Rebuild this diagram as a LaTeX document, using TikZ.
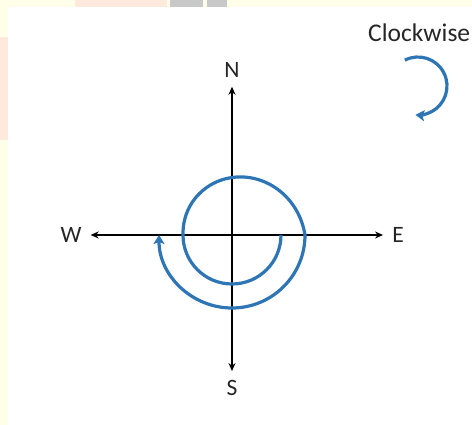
\documentclass[tikz,border=0pt]{standalone}
\usepackage{fontspec}
\setmainfont{Carlito}
\usepackage{xcolor}
\usetikzlibrary{arrows.meta,positioning}
\definecolor{cream}{RGB}{255,254,232}
\definecolor{peach}{RGB}{255,233,220}
\definecolor{wmgray}{RGB}{200,200,200}
\definecolor{spirblue}{RGB}{46,117,182}
\tikzset{
  Dlabel/.style={font=\fontsize{23.5}{26}\selectfont, inner sep=9pt, text=black!85},
  Cwtext/.style={font=\fontsize{25.5}{28}\selectfont, inner sep=0pt, text=black!85, anchor=west},
  Axarr/.style={{Stealth[length=8pt,width=7pt]}-{Stealth[length=8pt,width=7pt]}, line width=1.8pt},
  Spir/.style={-{Stealth[length=9pt,width=11pt,inset=2pt]}, line width=3.2pt, draw=spirblue}
}
\begin{document}
\begin{tikzpicture}[x=1pt,y=1pt]
  \useasboundingbox (-232,-190) rectangle (240,235);
  % page background and watermark bits
  \fill[cream] (-232,-190) rectangle (240,235);
  \fill[white] (-224,-190) rectangle (240,228);
  \fill[peach] (-157,228) rectangle (-65,235);
  \fill[wmgray] (-62,228) rectangle (-29,235);
  \fill[wmgray] (-25,228) rectangle (-5,235);
  \fill[peach] (-232,95) rectangle (-224,198);

  % compass labels
  \node[Dlabel] (N) at (0,165) {N};
  \node[Dlabel] (S) at (0,-153) {S};
  \node[Dlabel] (W) at (-161,0) {W};
  \node[Dlabel] (E) at (166,0) {E};

  \draw[Axarr] (S) -- (N);
  \draw[Axarr] (W) -- (E);

  % spiral
  \draw[Spir] (49,0) arc[start angle=0, end angle=-180, radius=49]
    -- plot[domain=180:0, samples=61, smooth]
      ({(49+24*((180-\x)/180)^1.5)*cos(\x)}, {(49+24*((180-\x)/180)^1.5)*sin(\x)})
    arc[start angle=0, end angle=-180, radius=73];

  % legend
  \node[Cwtext] (cw) at (136,202) {Clockwise};
  \coordinate (cwc) at (186,149);
  \draw[Spir] ([shift={(117:29)}]cwc) arc[start angle=117, end angle=-95, radius=29];
\end{tikzpicture}
\end{document}
